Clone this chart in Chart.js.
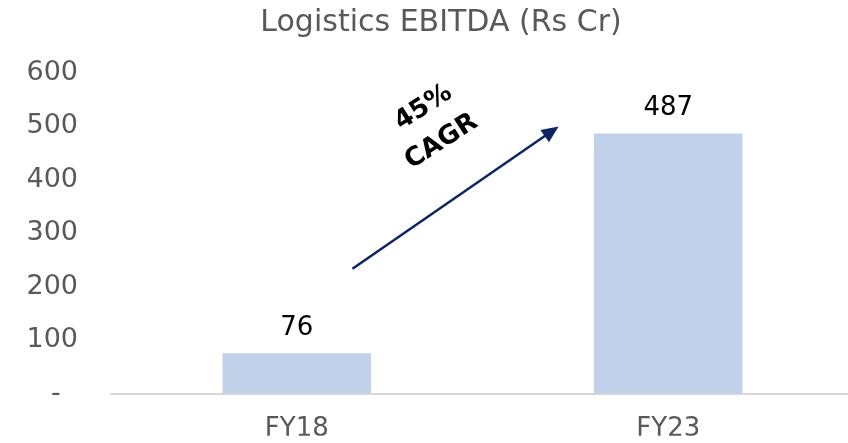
<!DOCTYPE html>
<html>
<head>
<meta charset="utf-8">
<script src="https://cdn.jsdelivr.net/npm/chart.js@4"></script>
<style>
  html, body { margin: 0; padding: 0; background: #fff; overflow: hidden; }
  #wrap { width: 854px; height: 443px; }
</style>
</head>
<body>
<div id="wrap"><canvas id="ebitdaChart"></canvas></div>
<script>
// Chart data
const categories = ['FY18', 'FY23'];
const ebitdaValues = [76, 487];
const yTicks = [0, 100, 200, 300, 400, 500, 600];
const cagrLines = ['45%', 'CAGR'];
// arrow ends in data units (category index, value)
const arrowFrom = [0.15, 234];
const arrowTo = [0.705, 500];

const FONT = '"DejaVu Sans"';

// Value labels above bars
const valueLabels = {
  id: 'valueLabels',
  afterDatasetsDraw(chart) {
    const ctx = chart.ctx;
    const meta = chart.getDatasetMeta(0);
    ctx.save();
    ctx.fillStyle = '#000';
    ctx.font = '26px ' + FONT;
    ctx.textAlign = 'center';
    ctx.textBaseline = 'alphabetic';
    meta.data.forEach(function(bar, i) {
      ctx.fillText(String(ebitdaValues[i]), bar.x, bar.y - 18);
    });
    ctx.restore();
  }
};

// CAGR arrow + label
const cagrArrow = {
  id: 'cagrArrow',
  afterDraw(chart) {
    const ctx = chart.ctx;
    const xs = chart.scales.x, ys = chart.scales.y;
    const x1 = xs.getPixelForValue(arrowFrom[0]), y1 = ys.getPixelForValue(arrowFrom[1]);
    const x2 = xs.getPixelForValue(arrowTo[0]), y2 = ys.getPixelForValue(arrowTo[1]);
    const ang = Math.atan2(y2 - y1, x2 - x1);
    ctx.save();
    ctx.strokeStyle = '#0e2463';
    ctx.fillStyle = '#0e2463';
    ctx.lineWidth = 2.5;
    ctx.beginPath();
    ctx.moveTo(x1, y1);
    ctx.lineTo(x2 - 12 * Math.cos(ang), y2 - 12 * Math.sin(ang));
    ctx.stroke();
    ctx.translate(x2, y2);
    ctx.rotate(ang);
    ctx.beginPath();
    ctx.moveTo(0, 0);
    ctx.lineTo(-17, -7.5);
    ctx.lineTo(-17, 7.5);
    ctx.closePath();
    ctx.fill();
    ctx.restore();

    // label, rotated along the arrow
    ctx.save();
    ctx.fillStyle = '#000';
    ctx.font = 'bold 26px ' + FONT;
    ctx.textAlign = 'center';
    ctx.textBaseline = 'middle';
    [[71, -161], [89, -127]].forEach(function(off, i) {
      ctx.save();
      ctx.translate(x1 + off[0], y1 + off[1]);
      ctx.rotate(-33 * Math.PI / 180);
      ctx.fillText(cagrLines[i], 0, 0);
      ctx.restore();
    });
    ctx.restore();
  }
};

new Chart(document.getElementById('ebitdaChart'), {
  type: 'bar',
  data: {
    labels: categories,
    datasets: [{
      data: ebitdaValues,
      backgroundColor: '#c1d1ea',
      borderWidth: 0,
      categoryPercentage: 1,
      barPercentage: 0.4
    }]
  },
  options: {
    responsive: true,
    maintainAspectRatio: false,
    animation: false,
    layout: { padding: { left: 28, right: 0, top: 5, bottom: 0 } },
    plugins: {
      legend: { display: false },
      tooltip: { enabled: false },
      title: {
        display: true,
        text: 'Logistics EBITDA (Rs Cr)',
        color: '#595959',
        font: { family: 'DejaVu Sans', size: 30, weight: 'normal', lineHeight: 1.2 },
        padding: { top: 0, bottom: 32 }
      }
    },
    scales: {
      x: {
        afterFit(scale) { scale.height = 42; },
        grid: { display: false, drawTicks: false },
        border: { display: true, color: '#d9d9d9', width: 2 },
        ticks: {
          color: '#595959',
          font: { family: 'DejaVu Sans', size: 26 },
          padding: 20
        }
      },
      y: {
        min: 0,
        max: 600,
        afterFit(scale) { scale.width = 83; },
        afterBuildTicks(scale) { scale.ticks = yTicks.map(v => ({ value: v })); },
        grid: { display: false, drawTicks: false },
        border: { display: false },
        ticks: {
          color: '#595959',
          font: { family: 'DejaVu Sans', size: 27 },
          padding: 33,
          callback: function(value) {
            return value === 0 ? '-  ' : value;
          }
        }
      }
    }
  },
  plugins: [valueLabels, cagrArrow]
});
</script>
</body>
</html>
